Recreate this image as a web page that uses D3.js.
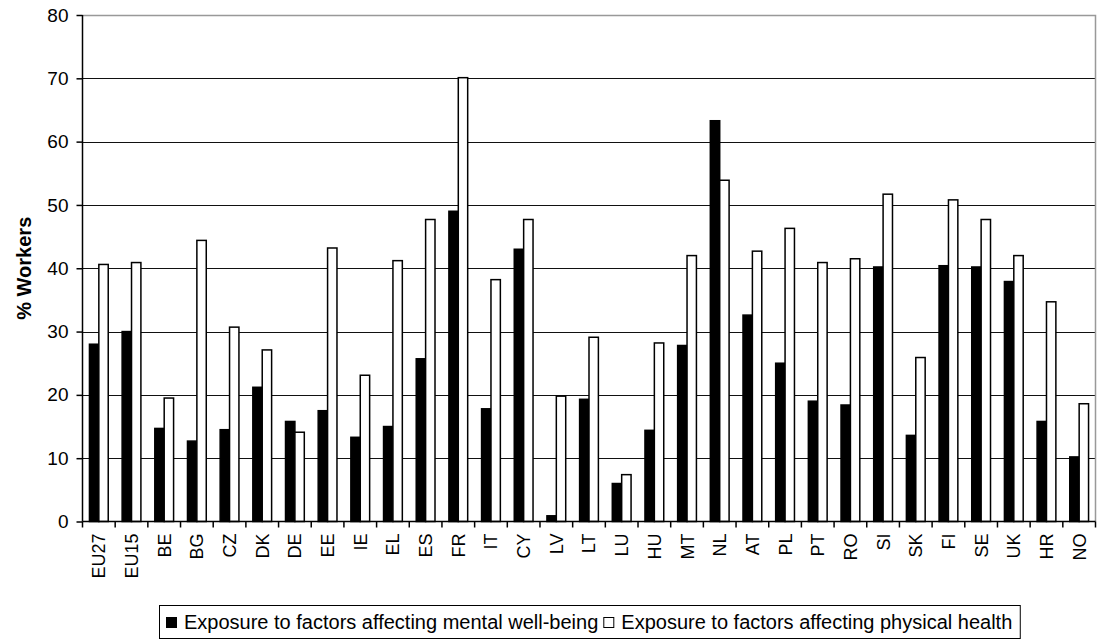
<!DOCTYPE html>
<html>
<head>
<meta charset="utf-8">
<script src="https://d3js.org/d3.v7.min.js"></script>
<style>
  body { margin: 0; background: #fff; }
  text { font-family: "Liberation Sans", Arial, sans-serif; fill: #000; }
</style>
</head>
<body>
<div id="chart"></div>
<script>
var countries = ["EU27","EU15","BE","BG","CZ","DK","DE","EE","IE","EL","ES","FR","IT","CY","LV","LT","LU","HU","MT","NL","AT","PL","PT","RO","SI","SK","FI","SE","UK","HR","NO"];
var mental = [28.0,30.0,14.7,12.7,14.5,21.2,15.8,17.5,13.3,15.0,25.7,49.0,17.8,43.0,0.9,19.3,6.0,14.4,27.8,63.3,32.6,25.0,19.0,18.4,40.2,13.6,40.4,40.2,37.9,15.8,10.2];
var physical = [40.6,40.9,19.5,44.4,30.7,27.1,14.1,43.2,23.1,41.2,47.7,70.1,38.2,47.7,19.8,29.1,7.4,28.2,42.0,53.9,42.7,46.3,40.9,41.5,51.7,25.9,50.8,47.7,42.0,34.7,18.6];
var seriesNames = ["Exposure to factors affecting mental well-being", "Exposure to factors affecting physical health"];
var seriesFill = ["#000", "#fff"];
var yTicks = [0,10,20,30,40,50,60,70,80];

var width = 1106, height = 644;
var plotLeft = 82.5, plotRight = 1095.5, plotTop = 15, plotBottom = 521.5;

var svg = d3.select("#chart").append("svg")
    .attr("width", width)
    .attr("height", height);

var x = d3.scaleBand().domain(countries).range([plotLeft, plotRight]).padding(0);
var x1 = d3.scaleBand().domain([0, 1]).range([0, x.bandwidth()]).paddingInner(0).paddingOuter(0.74);
var y = d3.scaleLinear().domain([0, 80]).range([plotBottom, plotTop]);

// grid lines
svg.append("g").selectAll("line")
    .data(yTicks.filter(function(d) { return d > 0 && d < 80; }))
    .enter().append("line")
    .attr("x1", plotLeft).attr("x2", plotRight)
    .attr("y1", function(d) { return Math.round(y(d)) + 0.5; })
    .attr("y2", function(d) { return Math.round(y(d)) + 0.5; })
    .attr("stroke", "#111").attr("stroke-width", 1);

// top + right frame (grey)
svg.append("path")
    .attr("d", "M" + plotLeft + "," + (plotTop + 0.5) + "H" + plotRight + "V" + plotBottom)
    .attr("fill", "none").attr("stroke", "#999").attr("stroke-width", 1.5);

// bars
var data = countries.map(function(c, i) { return { c: c, v: [mental[i], physical[i]] }; });
var groups = svg.append("g").selectAll("g")
    .data(data).enter().append("g")
    .attr("transform", function(d) { return "translate(" + x(d.c) + ",0)"; });

groups.selectAll("rect")
    .data(function(d) { return d.v.map(function(v, k) { return { k: k, v: v }; }); })
    .enter().append("rect")
    .attr("x", function(d) { return x1(d.k); })
    .attr("width", x1.bandwidth())
    .attr("y", function(d) { return y(d.v); })
    .attr("height", function(d) { return plotBottom - y(d.v); })
    .attr("fill", function(d) { return seriesFill[d.k]; })
    .attr("stroke", "#000")
    .attr("stroke-width", 1.5);

// y axis
var yAxis = svg.append("g")
    .attr("transform", "translate(" + plotLeft + ",0)")
    .call(d3.axisLeft(y).tickValues(yTicks).tickSize(6).tickPadding(8).tickFormat(d3.format("d")));
yAxis.selectAll("text").style("font-size", "19px").style("font-family", "'Liberation Sans', Arial, sans-serif");
yAxis.selectAll("line, path").attr("stroke", "#000").attr("stroke-width", 1.5);
yAxis.select(".domain").attr("d", "M0," + plotTop + "V" + plotBottom);

// x axis, ticks between categories
var xAxis = svg.append("g")
    .attr("transform", "translate(0," + plotBottom + ")");
xAxis.append("line")
    .attr("x1", plotLeft).attr("x2", plotRight)
    .attr("stroke", "#000").attr("stroke-width", 1.5);
xAxis.selectAll(".sep")
    .data(countries.concat(["_end"]))
    .enter().append("line")
    .attr("class", "sep")
    .attr("x1", function(d, i) { return plotLeft + i * x.bandwidth(); })
    .attr("x2", function(d, i) { return plotLeft + i * x.bandwidth(); })
    .attr("y1", 0).attr("y2", 6)
    .attr("stroke", "#000").attr("stroke-width", 1.5);
xAxis.selectAll(".lab")
    .data(countries)
    .enter().append("text")
    .attr("class", "lab")
    .attr("transform", function(d) { return "translate(" + (x(d) + x.bandwidth() / 2) + ",12)rotate(-90)"; })
    .attr("dy", "0.36em")
    .attr("text-anchor", "end")
    .style("font-size", "18px")
    .text(function(d) { return d; });

// y title
svg.append("text")
    .attr("transform", "translate(24," + (plotTop + plotBottom) / 2 + ")rotate(-90)")
    .attr("text-anchor", "middle")
    .attr("dy", "0.36em")
    .style("font-size", "20px")
    .style("font-weight", "bold")
    .text("% Workers");

// legend
var legend = svg.append("g");
var box = legend.append("rect")
    .attr("x", 159.5).attr("y", 605.5)
    .attr("height", 33)
    .attr("fill", "#fff").attr("stroke", "#000").attr("stroke-width", 1);
var lx = 166;
seriesNames.forEach(function(name, k) {
  legend.append("rect")
      .attr("x", lx + 0.5).attr("y", 617.5)
      .attr("width", 10).attr("height", 10)
      .attr("fill", seriesFill[k]).attr("stroke", "#000").attr("stroke-width", 1);
  var t = legend.append("text")
      .attr("x", lx + 18).attr("y", 629)
      .style("font-size", "20px")
      .text(name);
  lx = lx + 18 + t.node().getComputedTextLength() + 5;
});
box.attr("width", lx - 159.5 + 3);
</script>
</body>
</html>
